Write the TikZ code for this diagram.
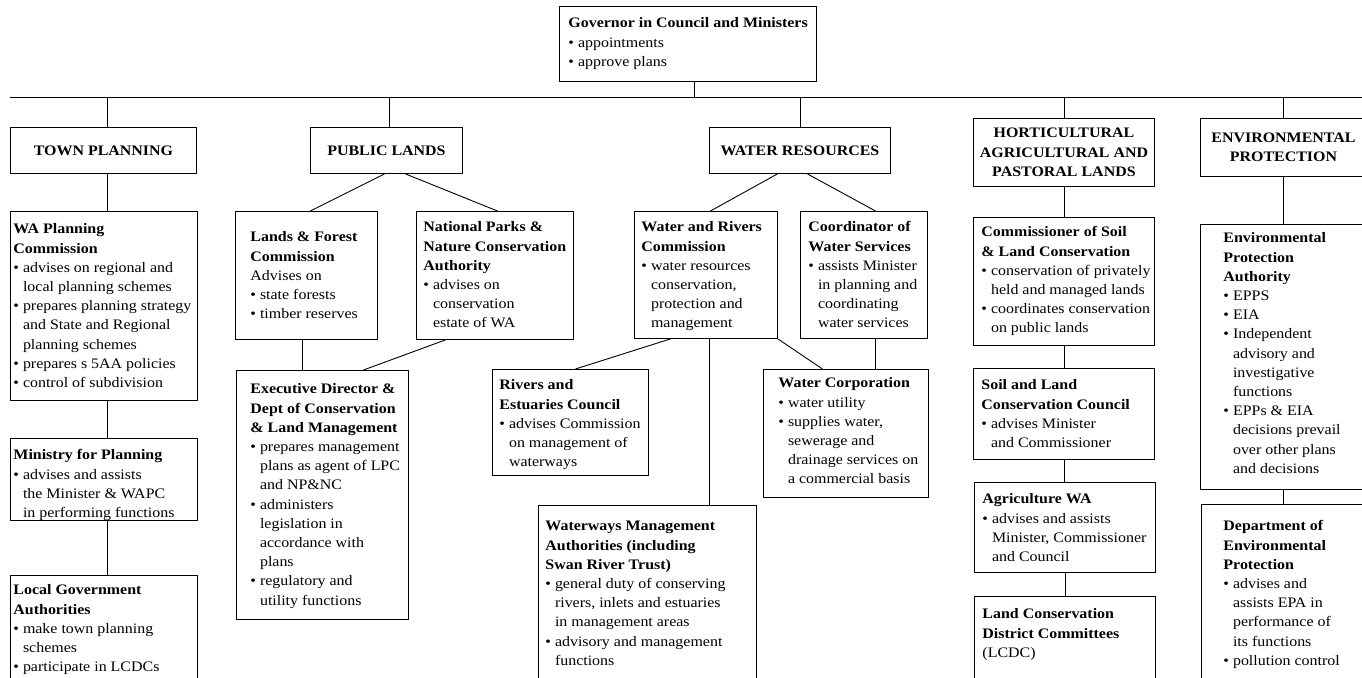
\documentclass[tikz,border=0pt]{standalone}
\usepackage{fontspec}
\setmainfont{Liberation Serif}[FakeStretch=1.1]
\newcommand{\orgsize}{\fontsize{14.5}{19.2}\selectfont}
\newcommand{\bl}{\textbullet\ }
\newcommand{\ct}{\hphantom{\textbullet\ }}
% inset left, inset top, width, height, lines
\newcommand{\ubox}[5]{\parbox[t][#4pt][t]{#3pt}{\vspace*{#2pt}\hspace*{#1pt}\begin{tabular}[t]{@{}l@{}}#5\end{tabular}}}

\begin{document}
\begin{tikzpicture}[x=1pt,y=-1pt,line width=0.9pt,
    unit/.style={draw,anchor=north west,inner sep=0pt,font=\orgsize},
    head/.style={draw,anchor=north west,inner sep=0pt,align=center,font=\orgsize\bfseries}]
  \useasboundingbox (0,0) rectangle (1362,677);
  \clip (0,0) rectangle (1362,677);

  % top
  \node[unit] (gov) at (559,6) {\ubox{9}{8}{257}{75}{\textbf{Governor in Council and Ministers}\\ \bl appointments\\ \bl approve plans}};
  \coordinate (barw) at (10,97);
  \coordinate (bare) at (1362,97);

  % portfolios
  \node[head,minimum width=186,minimum height=46] (town) at (10,127) {TOWN PLANNING};
  \node[head,minimum width=152,minimum height=46] (pl) at (310,127) {PUBLIC LANDS};
  \node[head,minimum width=181,minimum height=46] (wr) at (709,127) {WATER RESOURCES};
  \node[head,minimum width=181,minimum height=68] (hort) at (973,118) {HORTICULTURAL\\AGRICULTURAL AND\\PASTORAL LANDS};
  \node[head,minimum width=166,minimum height=58] (env) at (1200,118) {ENVIRONMENTAL\\PROTECTION};

  % town planning
  \node[unit] (wapc) at (10,211) {\ubox{3}{9}{187}{189}{\textbf{WA Planning}\\ \textbf{Commission}\\ \bl advises on regional and\\ \ct local planning schemes\\ \bl prepares planning strategy\\ \ct and State and Regional\\ \ct planning schemes\\ \bl prepares s 5AA policies\\ \bl control of subdivision}};
  \node[unit] (mfp) at (10,438) {\ubox{3}{8}{187}{82}{\textbf{Ministry for Planning}\\ \bl advises and assists\\ \ct the Minister \& WAPC\\ \ct in performing functions}};
  \node[unit] (lga) at (10,575) {\ubox{3}{6}{187}{110}{\textbf{Local Government}\\ \textbf{Authorities}\\ \bl make town planning\\ \ct schemes\\ \bl participate in LCDCs}};

  % public lands
  \node[unit] (lfc) at (235,211) {\ubox{15}{17}{142}{128}{\textbf{Lands \& Forest}\\ \textbf{Commission}\\ Advises on\\ \bl state forests\\ \bl timber reserves}};
  \node[unit] (np) at (416,211) {\ubox{7}{7}{157}{128}{\textbf{National Parks \&}\\ \textbf{Nature Conservation}\\ \textbf{Authority}\\ \bl advises on\\ \ct conservation\\ \ct estate of WA}};
  \node[unit] (cdlm) at (236,370) {\ubox{14}{10}{172}{249}{\textbf{Executive Director \&}\\ \textbf{Dept of Conservation}\\ \textbf{\& Land Management}\\ \bl prepares management\\ \ct plans as agent of LPC\\ \ct and NP\&NC\\ \bl administers\\ \ct legislation in\\ \ct accordance with\\ \ct plans\\ \bl regulatory and\\ \ct utility functions}};

  % water resources
  \node[unit] (wrc) at (634,211) {\ubox{7}{7}{143}{127}{\textbf{Water and Rivers}\\ \textbf{Commission}\\ \bl water resources\\ \ct conservation,\\ \ct protection and\\ \ct management}};
  \node[unit] (cws) at (800,211) {\ubox{8}{7}{127}{127}{\textbf{Coordinator of}\\ \textbf{Water Services}\\ \bl assists Minister\\ \ct in planning and\\ \ct coordinating\\ \ct water services}};
  \node[unit] (rec) at (492,369) {\ubox{7}{7}{156}{106}{\textbf{Rivers and}\\ \textbf{Estuaries Council}\\ \bl advises Commission\\ \ct on management of\\ \ct waterways}};
  \node[unit] (wcorp) at (763,369) {\ubox{15}{5}{165}{128}{\textbf{Water Corporation}\\ \bl water utility\\ \bl supplies water,\\ \ct sewerage and\\ \ct drainage services on\\ \ct a commercial basis}};
  \node[unit] (wma) at (538,505) {\ubox{7}{12}{218}{180}{\textbf{Waterways Management}\\ \textbf{Authorities (including}\\ \textbf{Swan River Trust)}\\ \bl general duty of conserving\\ \ct rivers, inlets and estuaries\\ \ct in management areas\\ \bl advisory and management\\ \ct functions}};

  % horticultural, agricultural and pastoral lands
  \node[unit] (csl) at (973,217) {\ubox{8}{6}{181}{128}{\textbf{Commissioner of Soil}\\ \textbf{\& Land Conservation}\\ \bl conservation of privately\\ \ct held and managed lands\\ \bl coordinates conservation\\ \ct on public lands}};
  \node[unit] (slcc) at (973,368) {\ubox{8}{8}{181}{91}{\textbf{Soil and Land}\\ \textbf{Conservation Council}\\ \bl advises Minister\\ \ct and Commissioner}};
  \node[unit] (awa) at (974,482) {\ubox{8}{8}{181}{90}{\textbf{Agriculture WA}\\ \bl advises and assists\\ \ct Minister, Commissioner\\ \ct and Council}};
  \node[unit] (lcdc) at (974,596) {\ubox{8}{9}{181}{90}{\textbf{Land Conservation}\\ \textbf{District Committees}\\ (LCDC)}};

  % environmental protection
  \node[unit] (epa) at (1200,224) {\ubox{23}{5}{166}{265}{\textbf{Environmental}\\ \textbf{Protection}\\ \textbf{Authority}\\ \bl EPPS\\ \bl EIA\\ \bl Independent\\ \ct advisory and\\ \ct investigative\\ \ct functions\\ \bl EPPs \& EIA\\ \ct decisions prevail\\ \ct over other plans\\ \ct and decisions}};
  \node[unit] (dep) at (1201,504) {\ubox{22}{13}{166}{180}{\textbf{Department of}\\ \textbf{Environmental}\\ \textbf{Protection}\\ \bl advises and\\ \ct assists EPA in\\ \ct performance of\\ \ct its functions\\ \bl pollution control}};

  % connectors
  \draw (barw) -- (bare);
  \draw ([xshift=6.5]gov.south) -- ([xshift=6.5]gov.south |- barw);
  \foreach \h/\dx in {town/3.5,pl/3,wr/0,hort/0,env/0}
    \draw ([xshift=\dx]\h.north) -- ([xshift=\dx]\h.north |- barw);
  \foreach \a/\b in {town/wapc,wapc/mfp,mfp/lga}
    \draw ([xshift=3.5]\a.south) -- ([xshift=3.5]\a.south |- \b.north);
  \draw ([xshift=-2]pl.south) -- ([xshift=4]lfc.north);
  \draw ([xshift=19]pl.south) -- ([xshift=2.5]np.north);
  \draw ([xshift=-4]lfc.south) -- ([xshift=-4]lfc.south |- cdlm.north);
  \draw ([xshift=-49.5]np.south) -- ([xshift=41]cdlm.north);
  \draw ([xshift=-22.5]wr.south) -- ([xshift=4.5]wrc.north);
  \draw ([xshift=7.5]wr.south) -- ([xshift=11.5]cws.north);
  \draw ([xshift=-35.5]wrc.south) -- ([xshift=5]rec.north);
  \draw ([xshift=3.5]wrc.south) -- ([xshift=3.5]wrc.south |- wma.north);
  \draw (wrc.south east) -- ([xshift=-23.5]wcorp.north);
  \draw ([xshift=11.5]cws.south) -- ([xshift=11.5]cws.south |- wcorp.north);
  \foreach \a/\b in {hort/csl,csl/slcc,slcc/awa,awa/lcdc,env/epa,epa/dep}
    \draw (\a.south) -- (\a.south |- \b.north);
\end{tikzpicture}
\end{document}
